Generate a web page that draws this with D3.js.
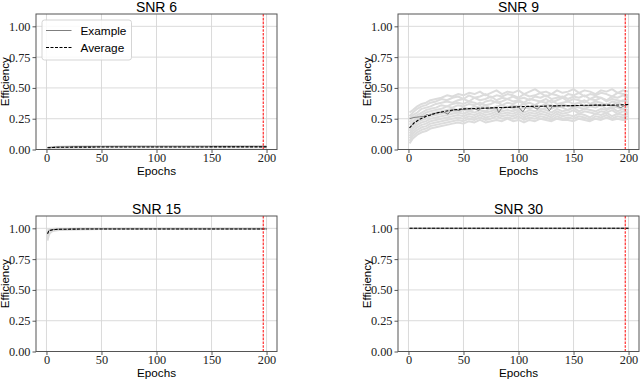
<!DOCTYPE html>
<html>
<head>
<meta charset="utf-8">
<script src="https://cdn.jsdelivr.net/npm/d3@7"></script>
<style>
  body { margin: 0; background: #fff; }
  svg { display: block; }
</style>
</head>
<body>
<div id="chart"></div>
<script>
// values (efficiency per epoch, 4 SNR settings)
var titles = ["SNR 6", "SNR 9", "SNR 15", "SNR 30"];
var x_ticks = [0, 50, 100, 150, 200];
var y_ticks = [0, 0.25, 0.5, 0.75, 1.0];
var best_epoch = [197, 197, 197, 197];

// SNR 6
var epochs6 = [1, 5, 10, 25, 50, 75, 100, 125, 150, 175, 200];
var avg6 = [0.014, 0.016, 0.018, 0.019, 0.020, 0.020, 0.020, 0.020, 0.021, 0.021, 0.021];
var example6 = [0.016, 0.018, 0.021, 0.023, 0.024, 0.025, 0.025, 0.025, 0.025, 0.025, 0.025];
var runs6 = [
    [0.010, 0.011, 0.013, 0.015, 0.016, 0.016, 0.017, 0.017, 0.017, 0.017, 0.017],
    [0.012, 0.014, 0.016, 0.018, 0.019, 0.020, 0.020, 0.021, 0.021, 0.021, 0.021],
    [0.017, 0.020, 0.023, 0.026, 0.028, 0.028, 0.029, 0.029, 0.029, 0.029, 0.029]
];

// SNR 9
var epochs9 = [1, 5, 10, 15, 20, 25, 30, 40, 50, 60, 70, 80, 90, 100, 110, 120, 130, 140, 150, 160, 170, 180, 190, 200];
var avg9 = [0.175, 0.215, 0.245, 0.265, 0.28, 0.295, 0.305, 0.32, 0.33, 0.333, 0.336, 0.34, 0.342, 0.347, 0.35, 0.351, 0.354, 0.355, 0.356, 0.359, 0.36, 0.36, 0.361, 0.366];
var example9_epochs = [1, 5, 10, 14, 17, 19, 22, 25, 28, 32, 36, 38, 42, 46, 48, 50, 55, 60, 64, 66, 70, 75, 80, 82, 85, 88, 92, 95, 100, 104, 107, 112, 117, 120, 125, 128, 131, 140, 150, 160, 170, 180, 188, 193, 196, 200];
var example9 = [0.25, 0.26, 0.265, 0.27, 0.285, 0.275, 0.29, 0.295, 0.3, 0.305, 0.287, 0.31, 0.325, 0.315, 0.325, 0.325, 0.33, 0.33, 0.318, 0.335, 0.335, 0.335, 0.34, 0.30, 0.34, 0.34, 0.342, 0.343, 0.345, 0.306, 0.348, 0.35, 0.328, 0.35, 0.35, 0.314, 0.352, 0.355, 0.355, 0.356, 0.36, 0.358, 0.357, 0.34, 0.355, 0.366];
var run9_epochs = [1, 4, 8, 12, 16, 20, 25, 30, 35, 40,
    45, 50, 55, 60, 65, 70, 75, 80, 85, 90,
    95, 100, 105, 110, 115, 120, 125, 130, 135, 140,
    145, 150, 155, 160, 165, 170, 175, 180, 185, 190,
    195, 200];
var runs9 = [
    [0.30, 0.32, 0.35, 0.37, 0.38, 0.40, 0.41, 0.42, 0.44, 0.43,
     0.45, 0.44, 0.46, 0.45, 0.47, 0.44, 0.46, 0.48, 0.45, 0.47,
     0.46, 0.48, 0.45, 0.47, 0.49, 0.46, 0.47, 0.45, 0.48, 0.46,
     0.47, 0.49, 0.46, 0.48, 0.47, 0.45, 0.48, 0.47, 0.49, 0.46,
     0.48, 0.47],
    [0.27, 0.30, 0.33, 0.35, 0.36, 0.38, 0.39, 0.41, 0.40, 0.42,
     0.43, 0.41, 0.44, 0.42, 0.43, 0.45, 0.42, 0.44, 0.43, 0.45,
     0.44, 0.42, 0.45, 0.43, 0.44, 0.46, 0.43, 0.45, 0.44, 0.42,
     0.45, 0.44, 0.46, 0.43, 0.45, 0.44, 0.46, 0.45, 0.43, 0.46,
     0.45, 0.44],
    [0.25, 0.28, 0.30, 0.33, 0.34, 0.35, 0.37, 0.38, 0.39, 0.38,
     0.40, 0.41, 0.39, 0.42, 0.40, 0.41, 0.43, 0.40, 0.42, 0.41,
     0.43, 0.41, 0.42, 0.40, 0.43, 0.42, 0.44, 0.41, 0.42, 0.43,
     0.41, 0.43, 0.42, 0.44, 0.41, 0.43, 0.42, 0.40, 0.43, 0.42,
     0.44, 0.42],
    [0.22, 0.26, 0.28, 0.30, 0.32, 0.33, 0.34, 0.36, 0.35, 0.37,
     0.38, 0.37, 0.39, 0.38, 0.36, 0.39, 0.40, 0.38, 0.39, 0.41,
     0.39, 0.40, 0.38, 0.41, 0.40, 0.39, 0.41, 0.38, 0.40, 0.42,
     0.39, 0.41, 0.40, 0.38, 0.41, 0.40, 0.42, 0.39, 0.41, 0.40,
     0.39, 0.41],
    [0.20, 0.23, 0.26, 0.28, 0.30, 0.31, 0.32, 0.33, 0.35, 0.34,
     0.36, 0.35, 0.37, 0.36, 0.38, 0.36, 0.37, 0.39, 0.36, 0.38,
     0.37, 0.39, 0.37, 0.38, 0.36, 0.39, 0.38, 0.40, 0.37, 0.38,
     0.39, 0.37, 0.38, 0.40, 0.37, 0.39, 0.38, 0.36, 0.39, 0.38,
     0.40, 0.38],
    [0.17, 0.21, 0.24, 0.26, 0.27, 0.29, 0.30, 0.31, 0.32, 0.33,
     0.32, 0.34, 0.33, 0.35, 0.34, 0.36, 0.33, 0.35, 0.36, 0.34,
     0.36, 0.35, 0.37, 0.34, 0.36, 0.35, 0.37, 0.36, 0.34, 0.37,
     0.35, 0.36, 0.38, 0.35, 0.36, 0.37, 0.35, 0.37, 0.36, 0.38,
     0.36, 0.37],
    [0.15, 0.19, 0.22, 0.24, 0.25, 0.27, 0.28, 0.29, 0.30, 0.31,
     0.30, 0.32, 0.31, 0.33, 0.32, 0.31, 0.34, 0.32, 0.33, 0.35,
     0.33, 0.32, 0.34, 0.33, 0.35, 0.32, 0.34, 0.33, 0.35, 0.34,
     0.32, 0.35, 0.34, 0.33, 0.35, 0.34, 0.36, 0.33, 0.35, 0.34,
     0.33, 0.35],
    [0.13, 0.17, 0.20, 0.22, 0.23, 0.25, 0.26, 0.27, 0.28, 0.29,
     0.30, 0.29, 0.31, 0.30, 0.32, 0.30, 0.31, 0.33, 0.31, 0.32,
     0.31, 0.33, 0.30, 0.32, 0.31, 0.33, 0.32, 0.30, 0.33, 0.31,
     0.32, 0.34, 0.31, 0.33, 0.32, 0.31, 0.33, 0.32, 0.34, 0.31,
     0.33, 0.32],
    [0.11, 0.15, 0.18, 0.20, 0.21, 0.23, 0.24, 0.25, 0.26, 0.27,
     0.28, 0.27, 0.29, 0.28, 0.30, 0.28, 0.29, 0.31, 0.29, 0.30,
     0.29, 0.31, 0.28, 0.30, 0.29, 0.31, 0.30, 0.28, 0.31, 0.29,
     0.30, 0.32, 0.29, 0.31, 0.30, 0.29, 0.31, 0.30, 0.32, 0.29,
     0.31, 0.30],
    [0.09, 0.13, 0.16, 0.18, 0.19, 0.21, 0.22, 0.23, 0.24, 0.25,
     0.26, 0.25, 0.27, 0.26, 0.28, 0.26, 0.27, 0.29, 0.27, 0.28,
     0.27, 0.29, 0.26, 0.28, 0.27, 0.29, 0.28, 0.26, 0.29, 0.27,
     0.28, 0.27, 0.29, 0.28, 0.26, 0.29, 0.28, 0.30, 0.27, 0.29,
     0.28, 0.29],
    [0.07, 0.11, 0.14, 0.16, 0.17, 0.19, 0.20, 0.21, 0.22, 0.23,
     0.24, 0.23, 0.25, 0.24, 0.26, 0.24, 0.25, 0.27, 0.25, 0.26,
     0.25, 0.27, 0.24, 0.26, 0.25, 0.27, 0.26, 0.24, 0.27, 0.25,
     0.26, 0.25, 0.27, 0.26, 0.24, 0.27, 0.26, 0.28, 0.25, 0.27,
     0.26, 0.27],
    [0.05, 0.09, 0.12, 0.14, 0.15, 0.17, 0.18, 0.19, 0.20, 0.21,
     0.22, 0.21, 0.23, 0.22, 0.24, 0.22, 0.23, 0.24, 0.23, 0.25,
     0.23, 0.24, 0.22, 0.24, 0.23, 0.25, 0.24, 0.23, 0.25, 0.24,
     0.24, 0.23, 0.25, 0.24, 0.23, 0.25, 0.24, 0.26, 0.24, 0.25,
     0.24, 0.25]
];

// SNR 15
var epochs15 = [1, 2, 3, 5, 8, 12, 20, 30, 50, 100, 150, 200];
var avg15 = [0.955, 0.975, 0.982, 0.987, 0.99, 0.992, 0.993, 0.994, 0.995, 0.995, 0.995, 0.995];
var example15 = [0.965, 0.98, 0.985, 0.99, 0.992, 0.994, 0.995, 0.995, 0.996, 0.996, 0.996, 0.996];
var runs15 = [
    [0.90, 0.94, 0.96, 0.975, 0.983, 0.987, 0.99, 0.992, 0.994, 0.995, 0.995, 0.995],
    [0.92, 0.95, 0.97, 0.98, 0.985, 0.99, 0.992, 0.993, 0.994, 0.995, 0.995, 0.995],
    [0.94, 0.965, 0.975, 0.984, 0.988, 0.991, 0.993, 0.994, 0.995, 0.996, 0.996, 0.996],
    [0.98, 0.99, 0.993, 0.995, 0.996, 0.997, 0.997, 0.998, 0.998, 0.998, 0.998, 0.998]
];

// SNR 30
var epochs30 = [1, 50, 100, 150, 200];
var avg30 = [1, 1, 1, 1, 1];
var example30 = [1, 1, 1, 1, 1];
var runs30 = [[1, 1, 1, 1, 1]];

var panels = [
    { left: 36, top: 14, epochs: epochs6, avg: avg6, ex_epochs: epochs6, ex: example6, run_epochs: epochs6, runs: runs6, legend: true },
    { left: 398, top: 14, epochs: epochs9, avg: avg9, ex_epochs: example9_epochs, ex: example9, run_epochs: run9_epochs, runs: runs9 },
    { left: 36, top: 216, epochs: epochs15, avg: avg15, ex_epochs: epochs15, ex: example15, run_epochs: epochs15, runs: runs15 },
    { left: 398, top: 216, epochs: epochs30, avg: avg30, ex_epochs: epochs30, ex: example30, run_epochs: epochs30, runs: runs30 }
];

var width = 640, height = 380;
var pw = 241, ph = 135.5;
var serif = "'Liberation Serif', 'Times New Roman', serif";
var sans = "'Liberation Sans', Arial, sans-serif";

var svg = d3.select("#chart").append("svg")
    .attr("width", width)
    .attr("height", height);

function draw_panel(p, i) {
    var x = d3.scaleLinear().domain([-9.5, 209.5]).range([p.left, p.left + pw]);
    var y = d3.scaleLinear().domain([0, 1.1]).range([p.top + ph, p.top]);
    var g = svg.append("g");

    // grid
    g.append("g").selectAll("line").data(x_ticks).enter().append("line")
        .attr("x1", function(d) { return x(d); }).attr("x2", function(d) { return x(d); })
        .attr("y1", p.top).attr("y2", p.top + ph)
        .attr("stroke", "#d6d6d6").attr("stroke-width", 0.9);
    g.append("g").selectAll("line").data(y_ticks).enter().append("line")
        .attr("x1", p.left).attr("x2", p.left + pw)
        .attr("y1", function(d) { return y(d); }).attr("y2", function(d) { return y(d); })
        .attr("stroke", "#d6d6d6").attr("stroke-width", 0.9);

    var line_of = function(ep) {
        return d3.line().x(function(d, k) { return x(ep[k]); }).y(function(d) { return y(d); });
    };

    g.append("g").selectAll("path").data(p.runs).enter().append("path")
        .attr("d", line_of(p.run_epochs))
        .attr("fill", "none").attr("stroke", "#dcdcdc").attr("stroke-width", 2)
        .attr("stroke-linejoin", "round");

    g.append("path").datum(p.ex)
        .attr("d", line_of(p.ex_epochs))
        .attr("fill", "none").attr("stroke", "#7f7f7f").attr("stroke-width", 1);

    g.append("path").datum(p.avg)
        .attr("d", line_of(p.epochs))
        .attr("fill", "none").attr("stroke", "#000").attr("stroke-width", 1.1)
        .attr("stroke-dasharray", "3,1.5");

    g.append("line")
        .attr("x1", x(best_epoch[i])).attr("x2", x(best_epoch[i]))
        .attr("y1", p.top).attr("y2", p.top + ph)
        .attr("stroke", "#ff1a1a").attr("stroke-width", 1.1)
        .attr("stroke-dasharray", "2.6,1.2");

    // frame
    g.append("rect")
        .attr("x", p.left).attr("y", p.top).attr("width", pw).attr("height", ph)
        .attr("fill", "none").attr("stroke", "#555").attr("stroke-width", 1);

    var xa = g.append("g")
        .attr("transform", "translate(0," + (p.top + ph) + ")")
        .call(d3.axisBottom(x).tickValues(x_ticks).tickSize(3.5).tickPadding(0.5));
    var ya = g.append("g")
        .attr("transform", "translate(" + p.left + ",0)")
        .call(d3.axisLeft(y).tickValues(y_ticks).tickSize(3.5).tickPadding(2).tickFormat(d3.format(".2f")));
    [xa, ya].forEach(function(a) {
        a.select(".domain").remove();
        a.selectAll(".tick line").attr("stroke", "#444").attr("stroke-width", 0.9);
        a.selectAll("text").attr("font-family", serif).attr("font-size", 12.3).attr("fill", "#222");
    });

    svg.append("text")
        .attr("x", p.left + pw / 2).attr("y", p.top - 2.5)
        .attr("text-anchor", "middle")
        .attr("font-family", sans).attr("font-size", 14)
        .text(titles[i]);
    svg.append("text")
        .attr("x", p.left + pw / 2).attr("y", p.top + ph + 25.5)
        .attr("text-anchor", "middle")
        .attr("font-family", sans).attr("font-size", 11.7)
        .text("Epochs");
    svg.append("text")
        .attr("transform", "translate(" + (p.left - 27.5) + "," + (p.top + ph / 2) + ") rotate(-90)")
        .attr("text-anchor", "middle")
        .attr("font-family", sans).attr("font-size", 11.5)
        .text("Efficiency");

    if (p.legend) {
        var lg = svg.append("g");
        lg.append("rect")
            .attr("x", 42).attr("y", 20).attr("width", 89.5).attr("height", 40)
            .attr("rx", 2.5)
            .attr("fill", "#fff").attr("fill-opacity", 0.85)
            .attr("stroke", "#d0d0d0").attr("stroke-width", 0.9);
        lg.append("line").attr("x1", 46).attr("x2", 71.5).attr("y1", 30.5).attr("y2", 30.5)
            .attr("stroke", "#7f7f7f").attr("stroke-width", 1);
        lg.append("line").attr("x1", 46).attr("x2", 71.5).attr("y1", 47.5).attr("y2", 47.5)
            .attr("stroke", "#000").attr("stroke-width", 1.1).attr("stroke-dasharray", "3,1.5");
        lg.append("text").attr("x", 80.5).attr("y", 34.8)
            .attr("font-family", sans).attr("font-size", 11.8).text("Example");
        lg.append("text").attr("x", 80.5).attr("y", 51.8)
            .attr("font-family", sans).attr("font-size", 11.8).text("Average");
    }
}

panels.forEach(function(p, i) { draw_panel(p, i); });
</script>
</body>
</html>
